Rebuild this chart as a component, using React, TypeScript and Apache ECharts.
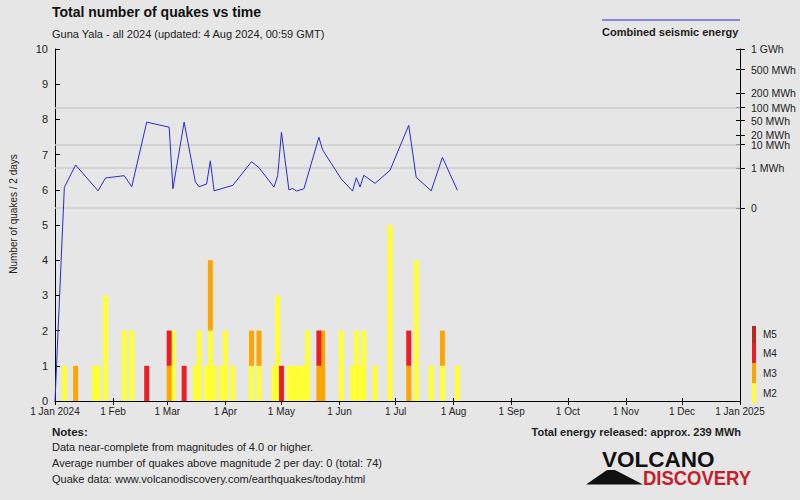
import React, { useEffect, useRef } from 'react';
import * as echarts from 'echarts';

const FONT = '"Liberation Sans", Arial, sans-serif';

// x axis: days since 1 Jan 2024 (leap year, 366 days)
const monthStartDays = [0, 31, 60, 91, 121, 152, 182, 213, 244, 274, 305, 335, 366];
const monthLabels = ['1 Jan 2024', '1 Feb', '1 Mar', '1 Apr', '1 May', '1 Jun', '1 Jul', '1 Aug', '1 Sep', '1 Oct', '1 Nov', '1 Dec', '1 Jan 2025'];

// 2-day bins (centre day since 1 Jan 2024) and number of quakes per magnitude class
const binDays = [5, 11, 21, 23, 27, 37, 41, 49, 61, 63, 69, 75, 77, 81, 83, 85, 89, 91, 95, 105, 109, 117, 119, 121, 125, 127, 129, 131, 133, 135, 141, 143, 153, 159, 161, 163, 165, 171, 179, 189, 193, 201, 207, 215];
const m2Counts = [1, 0, 1, 1, 3, 2, 2, 0, 0, 2, 0, 1, 2, 1, 2, 1, 1, 2, 1, 1, 1, 1, 3, 0, 1, 1, 1, 1, 1, 2, 0, 0, 2, 1, 2, 1, 2, 1, 5, 0, 4, 1, 1, 1];
const m3Counts = [0, 1, 0, 0, 0, 0, 0, 0, 1, 0, 0, 0, 0, 0, 2, 0, 0, 0, 0, 1, 1, 0, 0, 0, 0, 0, 0, 0, 0, 0, 1, 2, 0, 0, 0, 0, 0, 0, 0, 1, 0, 0, 1, 0];
const m4Counts = [0, 0, 0, 0, 0, 0, 0, 1, 1, 0, 1, 0, 0, 0, 0, 0, 0, 0, 0, 0, 0, 0, 0, 1, 0, 0, 0, 0, 0, 0, 1, 0, 0, 0, 0, 0, 0, 0, 0, 1, 0, 0, 0, 0];
const m5Counts = [0, 0, 0, 0, 0, 0, 0, 0, 0, 0, 0, 0, 0, 0, 0, 0, 0, 0, 0, 0, 0, 0, 0, 0, 0, 0, 0, 0, 0, 0, 0, 0, 0, 0, 0, 0, 0, 0, 0, 0, 0, 0, 0, 0];

// combined seismic energy per bin (MWh)
const energyDays = [5, 11, 23, 27, 37, 41, 49, 61, 63, 69, 75, 77, 81, 83, 85, 95, 105, 109, 117, 119, 121, 125, 127, 129, 133, 141, 143, 153, 159, 161, 163, 165, 171, 179, 189, 193, 201, 207, 215];
const energyMWh = [0.037, 1.45, 0.015, 0.24, 0.35, 0.043, 46, 34, 0.026, 46, 0.12, 0.043, 0.079, 2.3, 0.015, 0.059, 2.1, 1.05, 0.04, 0.35, 24.5, 0.019, 0.029, 0.014, 0.026, 17.4, 6.5, 0.2, 0.014, 0.25, 0.04, 0.37, 0.09, 0.75, 38, 0.27, 0.015, 3.3, 0.017];

const energyTickValues = [0, 1, 10, 20, 50, 100, 200, 500, 1000];
const energyTickLabels = ['0', '1 MWh', '10 MWh', '20 MWh', '50 MWh', '100 MWh', '200 MWh', '500 MWh', '1 GWh'];
const energyGridValues = [0, 1, 10, 100];

const magLegend = ['M5', 'M4', 'M3', 'M2'];
const magColors = { M2: '#ffff35', M3: '#ffa500', M4: '#ee1d23', M5: '#b8291b' };

// energy axis is a fifth-root scale
const root5 = (v: number) => Math.pow(v, 0.2);
const E_MAX = root5(1000);
const E_MIN = -4.83;

const App: React.FC = () => {
  const ref = useRef<HTMLDivElement>(null);

  useEffect(() => {
    if (!ref.current) return;
    const chart = echarts.init(ref.current, null, { renderer: 'svg' });

    const energyTickT = energyTickValues.map(root5);
    const energyLabel = (val: number) => {
      let best = 0;
      let bd = Infinity;
      energyTickT.forEach((t, i) => {
        const d = Math.abs(t - val);
        if (d < bd) { bd = d; best = i; }
      });
      return bd < 1e-3 ? energyTickLabels[best] : '';
    };
    const monthLabel = (val: number) => {
      const i = monthStartDays.indexOf(Math.round(val));
      return i >= 0 ? monthLabels[i] : '';
    };

    // count is put in the first dimension so that stacking applies to the y values
    const barSeries = (name: 'M2' | 'M3' | 'M4' | 'M5', counts: number[]) => ({
      name,
      type: 'bar',
      stack: 'mag',
      xAxisIndex: 0,
      yAxisIndex: 0,
      barWidth: 5,
      encode: { x: 1, y: 0 },
      itemStyle: { color: magColors[name] },
      data: binDays.map((d, i) => [counts[i], d]),
      z: 3,
    });

    const legendBarTop = 326;
    const legendSeg = [17, 20, 20, 20];
    const legendGraphics: any[] = [];
    let yy = legendBarTop;
    magLegend.forEach((m, i) => {
      legendGraphics.push({
        type: 'rect',
        shape: { x: 752, y: yy, width: 4, height: legendSeg[i] },
        style: { fill: (magColors as any)[m] },
      });
      legendGraphics.push({
        type: 'text',
        x: 763,
        y: yy + legendSeg[i] / 2,
        style: { text: m, fill: '#222', fontSize: 10, fontFamily: FONT, align: 'left', verticalAlign: 'middle' },
      });
      yy += legendSeg[i];
    });

    const option: any = {
      animation: false,
      backgroundColor: '#e6e6e6',
      textStyle: { fontFamily: FONT },
      title: {
        text: 'Total number of quakes vs time',
        subtext: 'Guna Yala - all 2024 (updated: 4 Aug 2024, 00:59 GMT)',
        left: 47,
        top: 0,
        itemGap: 9,
        textStyle: { fontSize: 14, fontWeight: 'bold', color: '#111', fontFamily: FONT },
        subtextStyle: { fontSize: 11, color: '#222', fontFamily: FONT },
      },
      grid: { left: 52, right: 60, top: 49, bottom: 99, containLabel: false },
      xAxis: [
        {
          type: 'value',
          min: 0,
          max: 366,
          position: 'bottom',
          axisLine: { show: true, onZero: false, lineStyle: { color: '#000', width: 1 } },
          axisTick: { show: true, customValues: monthStartDays, length: 4, lineStyle: { color: '#000' } },
          axisLabel: { show: true, customValues: monthStartDays, formatter: monthLabel, fontSize: 10, color: '#222', margin: 5, fontFamily: FONT },
          splitLine: { show: false },
        },
        {
          type: 'value',
          min: 0,
          max: 366,
          position: 'bottom',
          axisLine: { show: false, onZero: false },
          axisTick: { show: true, inside: true, customValues: monthStartDays, length: 3, lineStyle: { color: '#000' } },
          axisLabel: { show: false },
          splitLine: { show: false },
        },
      ],
      yAxis: [
        {
          type: 'value',
          min: 0,
          max: 10,
          interval: 1,
          position: 'left',
          name: 'Number of quakes / 2 days',
          nameLocation: 'middle',
          nameGap: 37,
          nameTextStyle: { fontSize: 10, color: '#222', fontFamily: FONT, padding: [0, 0, 0, 22] },
          axisLine: { show: true, onZero: false, lineStyle: { color: '#000', width: 1 } },
          axisTick: { show: true, inside: true, length: 5, lineStyle: { color: '#000' } },
          axisLabel: { fontSize: 11, color: '#222', margin: 7, fontFamily: FONT },
          splitLine: { show: false },
        },
        {
          type: 'value',
          min: E_MIN,
          max: E_MAX,
          position: 'right',
          axisLine: { show: true, onZero: false, lineStyle: { color: '#000', width: 1 } },
          axisTick: { show: true, customValues: energyTickT, length: 5, lineStyle: { color: '#000' } },
          axisLabel: { show: true, customValues: energyTickT, formatter: energyLabel, fontSize: 10.5, color: '#222', margin: 11, fontFamily: FONT },
          splitLine: { show: false },
        },
        {
          type: 'value',
          min: E_MIN,
          max: E_MAX,
          position: 'right',
          axisLine: { show: false, onZero: false },
          axisTick: { show: true, inside: true, customValues: energyTickT, length: 4, lineStyle: { color: '#000' } },
          axisLabel: { show: false },
          splitLine: { show: false },
        },
      ],
      series: [
        barSeries('M2', m2Counts),
        barSeries('M3', m3Counts),
        barSeries('M4', m4Counts),
        barSeries('M5', m5Counts),
        {
          name: 'Combined seismic energy',
          type: 'line',
          xAxisIndex: 0,
          yAxisIndex: 1,
          symbol: 'none',
          lineStyle: { color: '#2a2acb', width: 1 },
          // the curve rises from the bottom of the plot at the start of the period
          data: [[0, E_MIN], ...energyDays.map((d, i) => [d, root5(energyMWh[i])])],
          z: 4,
          markLine: {
            silent: true,
            symbol: 'none',
            label: { show: false },
            lineStyle: { color: '#cdcdcd', width: 1.5, type: 'solid' },
            data: energyGridValues.map((v) => ({ yAxis: root5(v) })),
            z: 1,
          },
        },
      ],
      graphic: [
        { type: 'line', shape: { x1: 602, y1: 20, x2: 740, y2: 20 }, style: { stroke: '#2a2acb', lineWidth: 1 } },
        { type: 'text', x: 602, y: 32, style: { text: 'Combined seismic energy', fill: '#222', fontSize: 11, fontWeight: 'bold', fontFamily: FONT, align: 'left', verticalAlign: 'middle' } },
        ...legendGraphics,
        { type: 'text', x: 52, y: 432, style: { text: 'Notes:', fill: '#222', fontSize: 11.5, fontWeight: 'bold', fontFamily: FONT, align: 'left', verticalAlign: 'middle' } },
        { type: 'text', x: 52, y: 447, style: { text: 'Data near-complete from magnitudes of 4.0 or higher.', fill: '#222', fontSize: 11, fontFamily: FONT, align: 'left', verticalAlign: 'middle' } },
        { type: 'text', x: 52, y: 463, style: { text: 'Average number of quakes above magnitude 2 per day: 0 (total: 74)', fill: '#222', fontSize: 11, fontFamily: FONT, align: 'left', verticalAlign: 'middle' } },
        { type: 'text', x: 52, y: 479, style: { text: 'Quake data: www.volcanodiscovery.com/earthquakes/today.html', fill: '#222', fontSize: 11, fontFamily: FONT, align: 'left', verticalAlign: 'middle' } },
        { type: 'text', x: 741, y: 432, style: { text: 'Total energy released: approx. 239 MWh', fill: '#222', fontSize: 11, fontWeight: 'bold', fontFamily: FONT, align: 'right', verticalAlign: 'middle' } },
        { type: 'polygon', shape: { points: [[586, 484.5], [607, 470], [615, 470], [643, 484.5]] }, style: { fill: '#111' } },
        { type: 'text', x: 602, y: 459, style: { text: 'VOLCANO', fill: '#111', fontSize: 22.5, fontWeight: 'bold', fontFamily: FONT, align: 'left', verticalAlign: 'middle' } },
        { type: 'text', x: 643, y: 477.5, scaleX: 0.88, style: { text: 'DISCOVERY', fill: '#c41e2a', fontSize: 21, fontWeight: 'bold', fontFamily: FONT, align: 'left', verticalAlign: 'middle' } },
      ],
    };

    chart.setOption(option);
    return () => chart.dispose();
  }, []);

  return <div ref={ref} style={{ position: 'absolute', left: 0, top: 0, width: 800, height: 500 }} />;
};

export default App;
